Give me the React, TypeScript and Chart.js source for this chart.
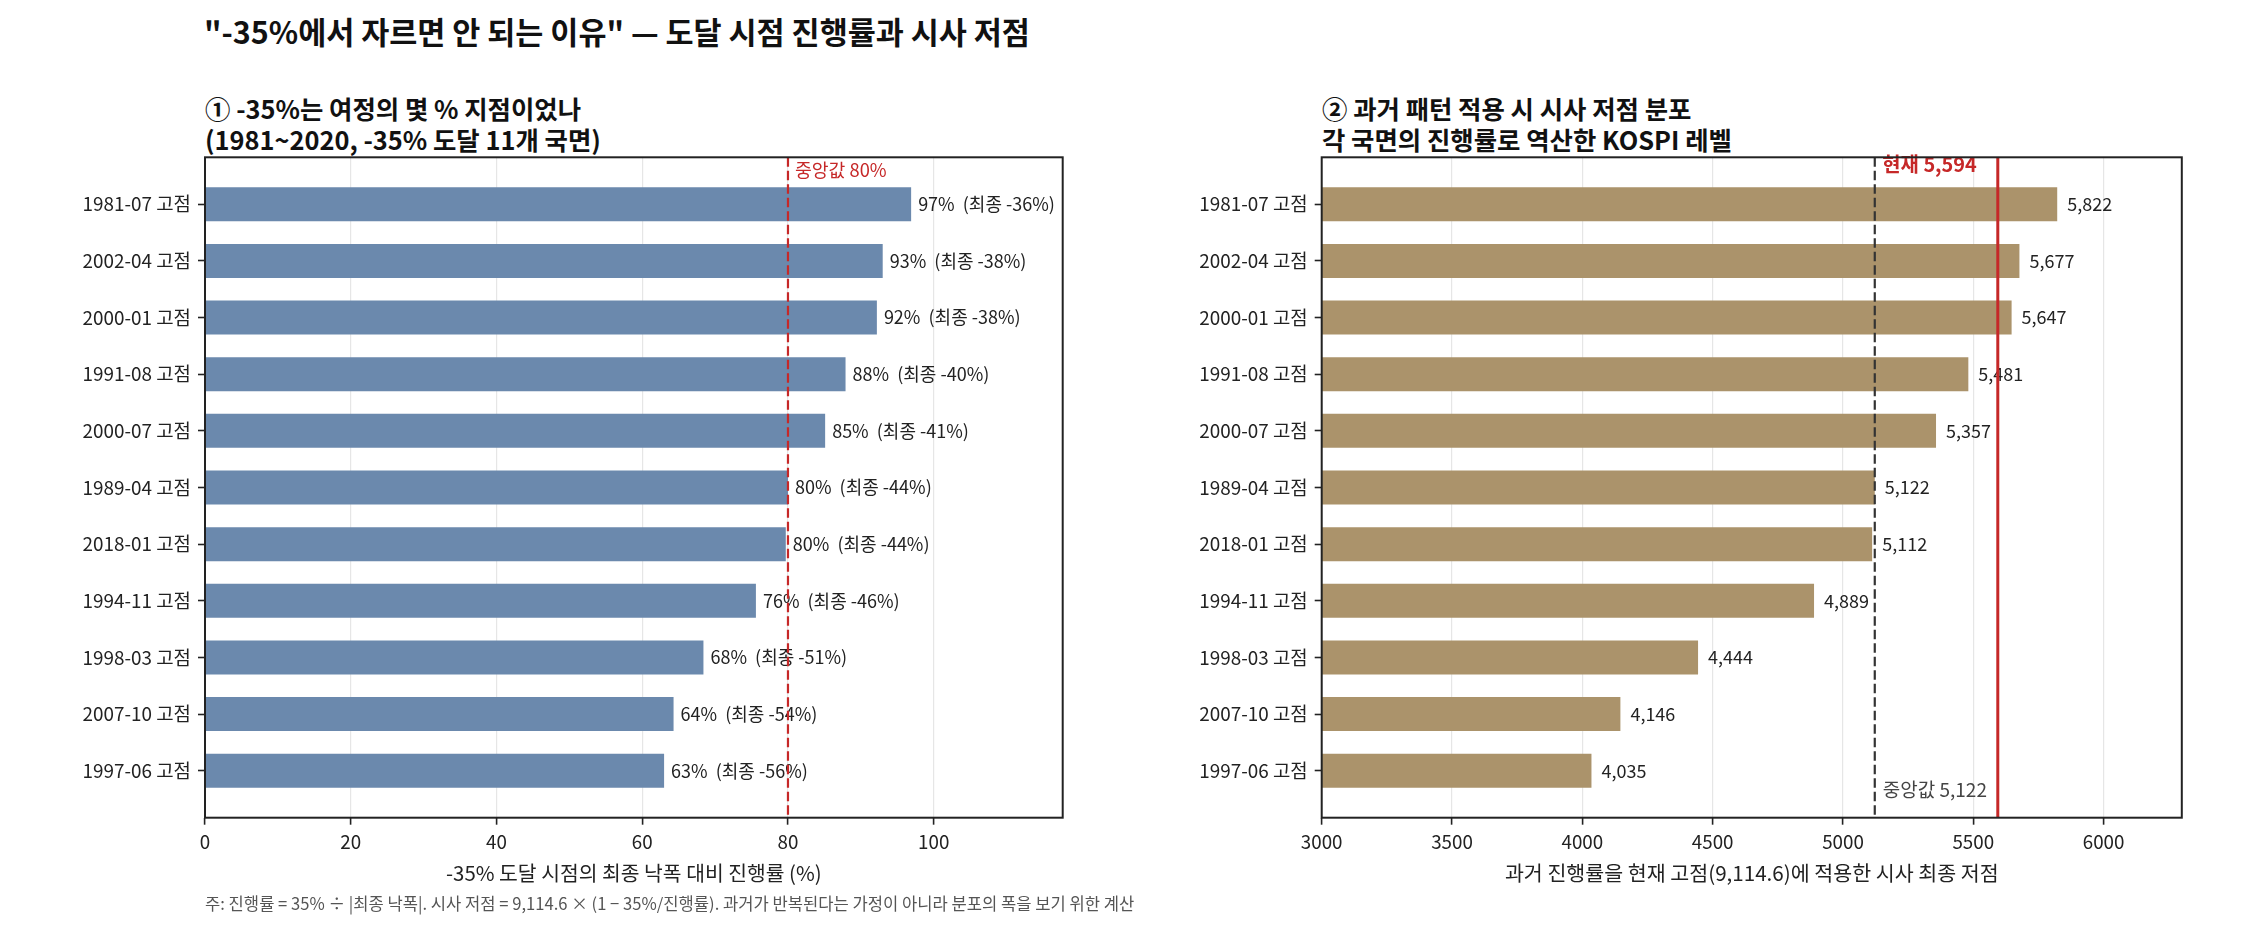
import React, { useEffect, useRef } from "react";
import { Chart, registerables } from "chart.js";

Chart.register(...registerables);

// ---------------- data ----------------
const periods = [
  "1981-07 고점",
  "2002-04 고점",
  "2000-01 고점",
  "1991-08 고점",
  "2000-07 고점",
  "1989-04 고점",
  "2018-01 고점",
  "1994-11 고점",
  "1998-03 고점",
  "2007-10 고점",
  "1997-06 고점",
];
const progressPct = [96.9, 93.0, 92.2, 87.9, 85.1, 80.0, 79.7, 75.6, 68.4, 64.3, 63.0];
const finalDrawdownPct = [-36, -38, -38, -40, -41, -44, -44, -46, -51, -54, -56];
const impliedLow = [5822, 5677, 5647, 5481, 5357, 5122, 5112, 4889, 4444, 4146, 4035];
const progressTicks = [0, 20, 40, 60, 80, 100];
const lowTicks = [3000, 3500, 4000, 4500, 5000, 5500, 6000];
const medianProgress = 80;
const medianLow = 5122;
const currentLevel = 5594;

const FONT = "'Noto Sans CJK KR', 'Noto Sans', sans-serif";
const W = 2250;
const H = 930;
const HALF = 1125;

const BLUE = "#6B89AD";
const TAN = "#AB936B";
const RED = "#C62828";
const FRAME = "#222222";
const GRID = "#e6e6e6";

const framePlugin = {
  id: "frameBox",
  afterDraw(chart: any) {
    const { ctx, chartArea: a } = chart;
    ctx.save();
    ctx.strokeStyle = FRAME;
    ctx.lineWidth = 2;
    ctx.strokeRect(a.left, a.top, a.right - a.left, a.bottom - a.top);
    ctx.restore();
  },
};

function vline(ctx: any, x: number, top: number, bottom: number, color: string, width: number, dash: number[]) {
  ctx.save();
  ctx.strokeStyle = color;
  ctx.lineWidth = width;
  ctx.setLineDash(dash);
  ctx.beginPath();
  ctx.moveTo(x, top);
  ctx.lineTo(x, bottom);
  ctx.stroke();
  ctx.restore();
}

const leftAnno = {
  id: "leftAnno",
  afterDatasetsDraw(chart: any) {
    const { ctx, chartArea: a, scales } = chart;
    const xs = scales.x;
    const ys = scales.y;
    const meta = chart.getDatasetMeta(0);
    ctx.save();
    ctx.font = `18px ${FONT}`;
    ctx.fillStyle = "#222";
    ctx.textBaseline = "middle";
    ctx.textAlign = "left";
    meta.data.forEach((el: any, i: number) => {
      ctx.fillText(
        `${Math.round(progressPct[i])}%  (최종 ${finalDrawdownPct[i]}%)`,
        el.x + 7,
        el.y
      );
    });
    ctx.restore();
    const mx = xs.getPixelForValue(medianProgress);
    vline(ctx, mx, a.top, a.bottom, RED, 2.2, [9.5, 4]);
    ctx.save();
    ctx.font = `18.3px ${FONT}`;
    ctx.fillStyle = RED;
    ctx.textBaseline = "middle";
    ctx.textAlign = "left";
    ctx.fillText(`중앙값 ${medianProgress}%`, mx + 7, ys.getPixelForValue(-0.6));
    ctx.restore();
  },
};

const rightAnno = {
  id: "rightAnno",
  afterDatasetsDraw(chart: any) {
    const { ctx, chartArea: a, scales } = chart;
    const xs = scales.x;
    const ys = scales.y;
    const meta = chart.getDatasetMeta(0);
    ctx.save();
    ctx.font = `18px ${FONT}`;
    ctx.fillStyle = "#222";
    ctx.textBaseline = "middle";
    ctx.textAlign = "left";
    meta.data.forEach((el: any, i: number) => {
      ctx.fillText(impliedLow[i].toLocaleString("en-US"), el.x + 10, el.y);
    });
    ctx.restore();
    const mx = xs.getPixelForValue(medianLow);
    const cx = xs.getPixelForValue(currentLevel);
    vline(ctx, mx, a.top, a.bottom, "#333", 2.2, [9.5, 4]);
    vline(ctx, cx, a.top, a.bottom, RED, 3, []);
    ctx.save();
    ctx.textBaseline = "middle";
    ctx.font = `19px ${FONT}`;
    ctx.fillStyle = "#444";
    ctx.textAlign = "left";
    ctx.fillText(`중앙값 ${medianLow.toLocaleString("en-US")}`, mx + 8, ys.getPixelForValue(10.33));
    ctx.font = `bold 19.9px ${FONT}`;
    ctx.fillStyle = RED;
    ctx.textAlign = "right";
    ctx.fillText(`현재 ${currentLevel.toLocaleString("en-US")}`, cx - 21, ys.getPixelForValue(-0.7));
    ctx.restore();
  },
};

function makeConfig(opts: {
  values: number[];
  color: string;
  xmin: number;
  xmax: number;
  xticks: number[];
  xtitle: string;
  xtitleSize: number;
  yWidth: number;
  padRight: number;
  anno: any;
}) {
  const plotTop = 157.3;
  const plotBottom = 817.7;
  const titleCenter = 873;
  const titleSize = opts.xtitleSize;
  const scaleBottom = titleCenter + (titleSize * 1.2) / 2;
  return {
    type: "bar",
    data: {
      datasets: [
        {
          data: opts.values.map((v, i) => ({ x: v, y: i })),
          backgroundColor: opts.color,
          borderWidth: 0,
          barPercentage: 0.6,
          categoryPercentage: 1,
        },
      ],
    },
    options: {
      indexAxis: "y",
      animation: false,
      responsive: false,
      maintainAspectRatio: false,
      devicePixelRatio: 1,
      layout: {
        padding: { left: 0, right: opts.padRight, top: plotTop, bottom: H - scaleBottom },
      },
      plugins: {
        legend: { display: false },
        tooltip: { enabled: false },
        title: { display: false },
      },
      scales: {
        x: {
          type: "linear",
          position: "bottom",
          min: opts.xmin,
          max: opts.xmax,
          offset: false,
          afterBuildTicks: (s: any) => {
            s.ticks = opts.xticks.map((v) => ({ value: v }));
          },
          afterFit: (s: any) => {
            s.height = scaleBottom - plotBottom;
          },
          grid: {
            offset: false,
            color: GRID,
            lineWidth: 1.2,
            tickColor: FRAME,
            tickLength: 7,
            tickWidth: 1.6,
          },
          border: { display: false },
          ticks: {
            font: { family: FONT, size: 18.8 },
            color: "#222",
            padding: 6,
            maxRotation: 0,
            callback: (v: any) => String(v),
          },
          title: {
            display: true,
            text: opts.xtitle,
            font: { family: FONT, size: titleSize },
            color: "#222",
            padding: { top: 0, bottom: 0 },
          },
        },
        y: {
          type: "linear",
          position: "left",
          min: -0.83,
          max: periods.length - 1 + 0.83,
          reverse: true,
          offset: false,
          afterBuildTicks: (s: any) => {
            s.ticks = periods.map((_, i) => ({ value: i }));
          },
          afterFit: (s: any) => {
            s.width = opts.yWidth;
          },
          grid: {
            offset: false,
            drawOnChartArea: false,
            tickColor: FRAME,
            tickLength: 7,
            tickWidth: 1.6,
          },
          border: { display: false },
          ticks: {
            font: { family: FONT, size: 18.9 },
            color: "#222",
            padding: 7,
            autoSkip: false,
            callback: (v: any) => periods[v] ?? "",
          },
        },
      },
    },
    plugins: [framePlugin, opts.anno],
  };
}

function BarPanel(props: { cfg: any; left: number }) {
  const ref = useRef<HTMLCanvasElement | null>(null);
  useEffect(() => {
    if (!ref.current) return;
    const chart = new Chart(ref.current, props.cfg);
    return () => chart.destroy();
  }, []);
  return (
    <canvas
      ref={ref}
      width={HALF}
      height={H}
      style={{ position: "absolute", left: props.left, top: 0, width: HALF, height: H }}
    />
  );
}

const leftCfg = makeConfig({
  values: progressPct,
  color: BLUE,
  xmin: 0,
  xmax: 117.7,
  xticks: progressTicks,
  xtitle: "-35% 도달 시점의 최종 낙폭 대비 진행률 (%)",
  xtitleSize: 20.4,
  yWidth: 205,
  padRight: HALF - 1062.7,
  anno: leftAnno,
});

const rightCfg = makeConfig({
  values: impliedLow,
  color: TAN,
  xmin: 3000,
  xmax: 6300,
  xticks: lowTicks,
  xtitle: "과거 진행률을 현재 고점(9,114.6)에 적용한 시사 최종 저점",
  xtitleSize: 20.6,
  yWidth: 1321.7 - HALF,
  padRight: HALF - (2181.8 - HALF),
  anno: rightAnno,
});

export default function App() {
  const textBase: React.CSSProperties = {
    position: "absolute",
    fontFamily: FONT,
    color: "#111",
    whiteSpace: "pre",
    margin: 0,
  };
  return (
    <div
      style={{
        position: "absolute",
        left: 0,
        top: 0,
        width: W,
        height: H,
        background: "#fff",
        overflow: "hidden",
      }}
    >
      <div style={{ ...textBase, left: 204, top: 12, fontSize: 30.5, lineHeight: "38px", fontWeight: 700 }}>
        "-35%에서 자르면 안 되는 이유" — 도달 시점 진행률과 시사 저점
      </div>
      <div style={{ ...textBase, left: 205, top: 93, fontSize: 25.4, lineHeight: "31.3px", fontWeight: 700 }}>
        {"① -35%는 여정의 몇 % 지점이었나\n(1981~2020, -35% 도달 11개 국면)"}
      </div>
      <div style={{ ...textBase, left: 1322, top: 93, fontSize: 25.4, lineHeight: "31.3px", fontWeight: 700 }}>
        {"② 과거 패턴 적용 시 시사 저점 분포\n각 국면의 진행률로 역산한 KOSPI 레벨"}
      </div>
      <BarPanel cfg={leftCfg} left={0} />
      <BarPanel cfg={rightCfg} left={HALF} />
      <div style={{ ...textBase, left: 205, top: 893, fontSize: 16.6, lineHeight: "20px", color: "#555" }}>
        주: 진행률 = 35% ÷ |최종 낙폭|. 시사 저점 = 9,114.6 × (1 − 35%/진행률). 과거가 반복된다는 가정이 아니라 분포의 폭을 보기 위한 계산
      </div>
    </div>
  );
}
